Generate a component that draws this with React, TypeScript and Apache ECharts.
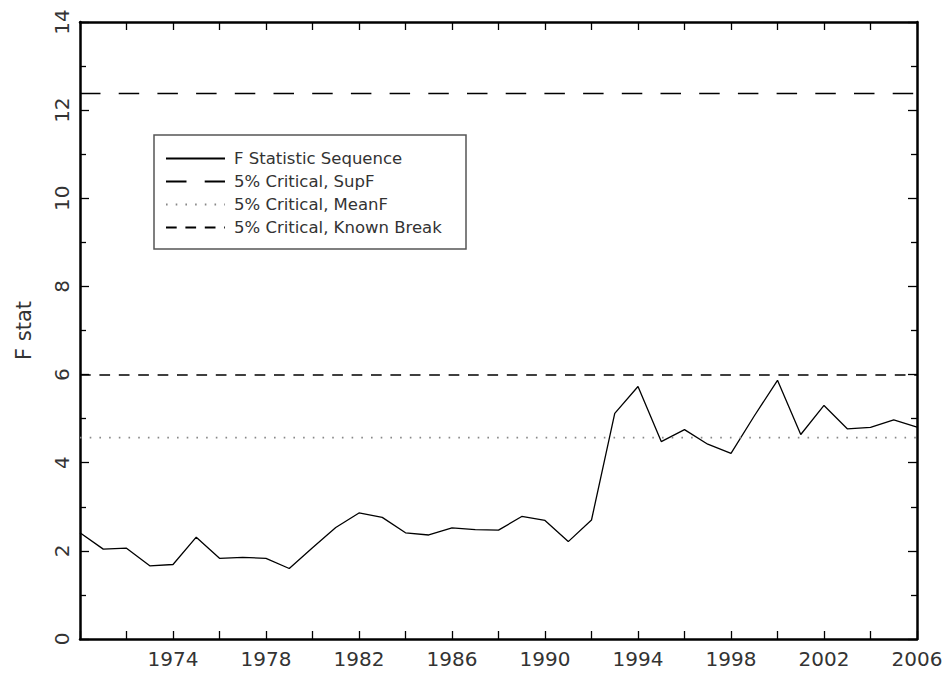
import React, { useEffect, useRef } from "react";
import * as echarts from "echarts";

const years = [
  1970, 1971, 1972, 1973, 1974, 1975, 1976, 1977, 1978, 1979,
  1980, 1981, 1982, 1983, 1984, 1985, 1986, 1987, 1988, 1989,
  1990, 1991, 1992, 1993, 1994, 1995, 1996, 1997, 1998, 1999,
  2000, 2001, 2002, 2003, 2004, 2005, 2006,
];
const fStat = [
  2.41, 2.04, 2.06, 1.66, 1.69, 2.31, 1.83, 1.85, 1.83, 1.6,
  2.07, 2.53, 2.86, 2.76, 2.41, 2.36, 2.52, 2.48, 2.47, 2.78,
  2.69, 2.21, 2.7, 5.12, 5.73, 4.48, 4.75, 4.42, 4.21, 5.06,
  5.87, 4.64, 5.3, 4.77, 4.8, 4.97, 4.81,
];
const supF = 12.38;
const meanF = 4.57;
const knownBreak = 5.99;
const xLabelYears = [1974, 1978, 1982, 1986, 1990, 1994, 1998, 2002, 2006];
const seriesNames = [
  "F Statistic Sequence",
  "5% Critical, SupF",
  "5% Critical, MeanF",
  "5% Critical, Known Break",
];

const FONT = "DejaVu Sans";

export default function App() {
  const ref = useRef<HTMLDivElement>(null);
  useEffect(() => {
    const chart = echarts.init(ref.current!, null, { renderer: "svg" });
    const x0 = years[0];
    const x1 = years[years.length - 1];
    const axisLine = { show: true, onZero: false, lineStyle: { color: "#000", width: 2.5 } };
    const tickStyle = { color: "#000", width: 1.3 };
    const constLine = (v: number) => [
      [x0, v],
      [x1, v],
    ];
    chart.setOption({
      animation: false,
      backgroundColor: "#fff",
      grid: { left: 80, right: 33, top: 22, bottom: 38 },
      xAxis: [
        {
          type: "value",
          min: 1970,
          max: 2006,
          interval: 2,
          position: "bottom",
          axisLine,
          axisTick: { show: true, inside: true, length: 8, lineStyle: tickStyle },
          axisLabel: {
            formatter: (v: number) => (xLabelYears.includes(v) ? String(v) : ""),
            margin: 10,
            fontSize: 20,
            color: "#333",
            fontFamily: FONT,
          },
          splitLine: { show: false },
        },
        {
          type: "value",
          min: 1970,
          max: 2006,
          interval: 2,
          position: "top",
          axisLine,
          axisTick: { show: true, inside: true, length: 8, lineStyle: tickStyle },
          axisLabel: { show: false },
          splitLine: { show: false },
        },
      ],
      yAxis: [
        {
          type: "value",
          min: 0,
          max: 14,
          interval: 2,
          position: "left",
          name: "F stat",
          nameLocation: "middle",
          nameRotate: 90,
          nameGap: 46,
          nameTextStyle: { fontSize: 21, color: "#333", fontFamily: FONT },
          axisLine,
          axisTick: { show: true, inside: true, length: 9, lineStyle: tickStyle },
          minorTick: { show: true, splitNumber: 2, length: 6, lineStyle: tickStyle },
          axisLabel: { rotate: 90, margin: 8, fontSize: 20, color: "#333", fontFamily: FONT },
          splitLine: { show: false },
          minorSplitLine: { show: false },
        },
        {
          type: "value",
          min: 0,
          max: 14,
          interval: 2,
          position: "right",
          axisLine,
          axisTick: { show: true, inside: true, length: 9, lineStyle: tickStyle },
          minorTick: { show: true, splitNumber: 2, length: 6, lineStyle: tickStyle },
          axisLabel: { show: false },
          splitLine: { show: false },
          minorSplitLine: { show: false },
        },
      ],
      legend: {
        orient: "vertical",
        left: 165,
        top: 150,
        padding: 0,
        itemWidth: 59,
        itemHeight: 17,
        itemGap: 6,
        selectedMode: false,
        data: seriesNames,
        itemStyle: { opacity: 0, borderWidth: 0 },
        textStyle: {
          fontSize: 16.5,
          lineHeight: 17,
          color: "#333",
          fontFamily: FONT,
          padding: [0, 0, 0, 4],
        },
      },
      graphic: [
        {
          type: "rect",
          shape: { x: 154, y: 135, width: 312, height: 114 },
          style: { fill: "none", stroke: "#555", lineWidth: 1.5 },
          z: 10,
        },
      ],
      series: [
        {
          name: seriesNames[0],
          type: "line",
          symbol: "none",
          data: years.map((y, i) => [y, fStat[i]]),
          lineStyle: { color: "#000", width: 1.3 },
          itemStyle: { color: "#000" },
        },
        {
          name: seriesNames[1],
          type: "line",
          symbol: "none",
          data: constLine(supF),
          lineStyle: { color: "#000", width: 1.5, type: [20.5, 18.2] },
          itemStyle: { color: "#000" },
        },
        {
          name: seriesNames[2],
          type: "line",
          symbol: "none",
          data: constLine(meanF),
          lineStyle: { color: "#888", width: 1.6, type: [1.6, 8.1] },
          itemStyle: { color: "#888" },
        },
        {
          name: seriesNames[3],
          type: "line",
          symbol: "none",
          data: constLine(knownBreak),
          lineStyle: { color: "#000", width: 1.5, type: [10.7, 8.7] },
          itemStyle: { color: "#000" },
        },
      ],
    });
    return () => chart.dispose();
  }, []);
  return (
    <div
      ref={ref}
      style={{ position: "fixed", left: 0, top: 0, width: 950, height: 677 }}
    />
  );
}
